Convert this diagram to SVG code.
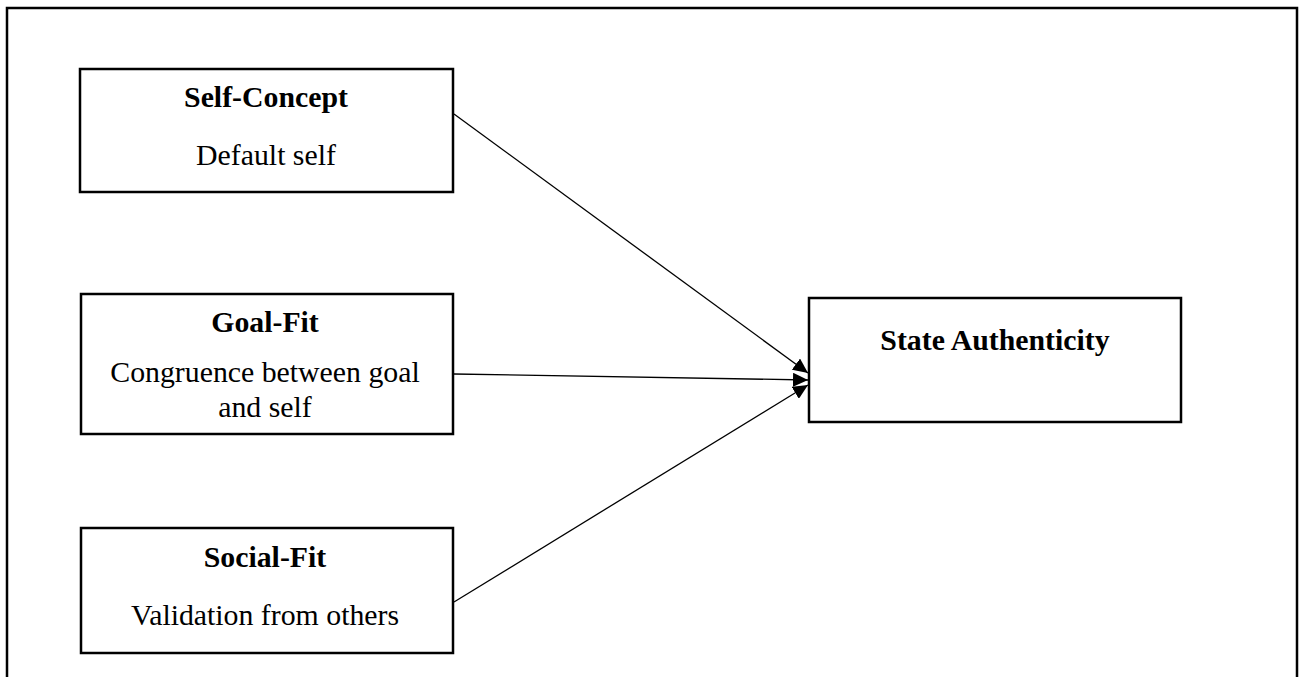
<svg xmlns="http://www.w3.org/2000/svg" width="1303" height="677" viewBox="0 0 1303 677">
  <style>
    .frame { fill: none; stroke: #000; stroke-width: 2.5; }
    .box { fill: #fff; stroke: #000; stroke-width: 2.5; }
    .title { font-family: "Times New Roman", "Liberation Serif", serif; font-weight: bold; font-size: 29.8px; text-anchor: middle; fill: #000; }
    .body { font-family: "Times New Roman", "Liberation Serif", serif; font-size: 29.8px; text-anchor: middle; fill: #000; }
    .link { fill: none; stroke: #000; stroke-width: 1.3; }
  </style>
  <defs>
    <marker id="arrow" viewBox="0 0 15 14" refX="15" refY="7" markerWidth="15" markerHeight="14" markerUnits="userSpaceOnUse" orient="auto">
      <path d="M0,0 L15,7 L0,14 Z" fill="#000"/>
    </marker>
  </defs>

  <!-- outer frame, open at the bottom -->
  <path class="frame" d="M7,677 V8 H1297 V677"/>

  <g id="connectors">
    <line class="link" x1="454" y1="114" x2="808" y2="373" marker-end="url(#arrow)"/>
    <line class="link" x1="454" y1="374" x2="808" y2="380" marker-end="url(#arrow)"/>
    <line class="link" x1="454" y1="602" x2="808" y2="385" marker-end="url(#arrow)"/>
  </g>

  <g id="self-concept">
    <rect class="box" x="80" y="69" width="373" height="123"/>
    <text class="title" x="266" y="107">Self-Concept</text>
    <text class="body" x="266" y="165">Default self</text>
  </g>

  <g id="goal-fit">
    <rect class="box" x="81" y="294" width="372" height="140"/>
    <text class="title" x="265" y="332">Goal-Fit</text>
    <text class="body" x="265" y="382">Congruence between goal</text>
    <text class="body" x="265" y="417">and self</text>
  </g>

  <g id="social-fit">
    <rect class="box" x="81" y="528" width="372" height="125"/>
    <text class="title" x="265" y="567">Social-Fit</text>
    <text class="body" x="265" y="625">Validation from others</text>
  </g>

  <g id="state-authenticity">
    <rect class="box" x="809" y="298" width="372" height="124"/>
    <text class="title" x="995" y="350">State Authenticity</text>
  </g>
</svg>
